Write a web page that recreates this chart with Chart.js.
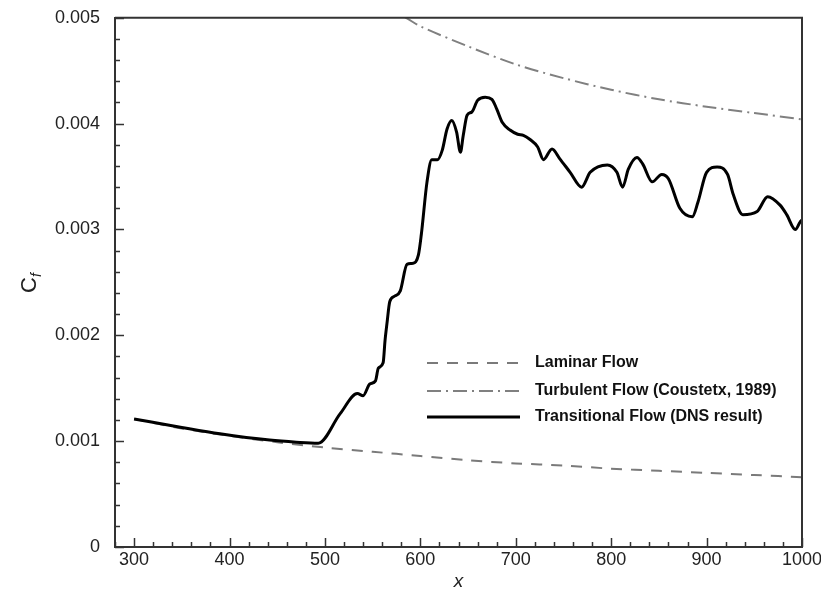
<!DOCTYPE html>
<html>
<head>
<meta charset="utf-8">
<script src="https://cdn.jsdelivr.net/npm/chart.js@4.4.1/dist/chart.umd.min.js"></script>
<style>
  html, body { margin: 0; padding: 0; background: #fff; }
  #wrap { width: 821px; height: 598px; }
</style>
</head>
<body>
<div id="wrap"><canvas id="cfChart" width="821" height="598"></canvas></div>
<script>
// ---- data ----
const laminarX = [300, 350, 400, 450, 500, 550, 600, 650, 700, 750, 800, 850, 900, 950, 1000];
const laminarCf = [0.00121, 0.00112, 0.00105, 0.00099, 0.00094, 0.00090, 0.00086, 0.00082,
                   0.00079, 0.00077, 0.00074, 0.00072, 0.00070, 0.00068, 0.00066];

const turbulentX = [560, 585, 600, 650, 700, 750, 800, 850, 900, 950, 1000];
const turbulentCf = [0.00512, 0.00500, 0.00492, 0.00473, 0.00456, 0.00443, 0.00432,
                     0.00423, 0.00416, 0.00410, 0.00404];

const dnsX = [300, 350, 390, 442, 470, 493, 516, 534, 540, 547, 553, 556, 561, 563, 565, 568,
              573, 579, 586, 592, 598, 601, 607, 612, 618, 623, 628, 633, 638, 642, 645, 649,
              654, 660, 668, 675, 680, 686, 694, 702, 708, 715, 723, 729, 738, 746, 757, 769,
              778, 796, 806, 812, 818, 827, 833, 843, 853, 860, 872, 885, 891, 900, 911, 922,
              928, 938, 953, 964, 977, 984, 993, 998, 1000];
const dnsCf = [0.00121, 0.00113, 0.00107, 0.00101, 0.00099, 0.00098, 0.00126, 0.00145,
               0.00143, 0.00154, 0.00157, 0.00169, 0.00174, 0.00195, 0.00211, 0.00232,
               0.00237, 0.00242, 0.00267, 0.00268, 0.00276, 0.00295, 0.00345, 0.00366,
               0.00366, 0.00375, 0.00395, 0.00403, 0.00392, 0.00373, 0.00389, 0.00408,
               0.00411, 0.00422, 0.00425, 0.00423, 0.00414, 0.00401, 0.00394, 0.00390,
               0.00389, 0.00385, 0.00378, 0.00366, 0.00376, 0.00367, 0.00354, 0.00340,
               0.00354, 0.00361, 0.00354, 0.00340, 0.00357, 0.00368, 0.00362, 0.00345,
               0.00352, 0.00348, 0.00320, 0.00312, 0.00326, 0.00354, 0.00359, 0.00352,
               0.00333, 0.00314, 0.00317, 0.00331, 0.00323, 0.00314, 0.00300, 0.00307, 0.00309];

const seriesLabels = ['Laminar Flow', 'Turbulent Flow (Coustetx, 1989)', 'Transitional Flow (DNS result)'];
const xTickLabels = [300, 400, 500, 600, 700, 800, 900, 1000];
const yTickLabels = [0, 0.001, 0.002, 0.003, 0.004, 0.005];

function toPoints(xs, ys) {
    return xs.map((x, i) => ({ x: x, y: ys[i] }));
}

const AXIS_COLOR = '#333';
const TEXT_COLOR = '#222';
const FONT = '"Liberation Sans", Arial, sans-serif';

// inward ticks + frame on top/right
const framePlugin = {
    id: 'frame',
    afterDraw(chart) {
        const { ctx, chartArea: a, scales } = chart;
        ctx.save();
        ctx.strokeStyle = AXIS_COLOR;
        ctx.lineWidth = 2;
        ctx.beginPath();
        ctx.moveTo(a.left, a.top);
        ctx.lineTo(a.right, a.top);
        ctx.lineTo(a.right, a.bottom);
        ctx.stroke();

        ctx.lineWidth = 1.5;
        scales.x.ticks.forEach(t => {
            const px = Math.round(scales.x.getPixelForValue(t.value)) + 0.5;
            const len = xTickLabels.includes(t.value) ? 9 : 5;
            ctx.beginPath();
            ctx.moveTo(px, a.bottom);
            ctx.lineTo(px, a.bottom - len);
            ctx.stroke();
        });
        scales.y.ticks.forEach(t => {
            const py = Math.round(scales.y.getPixelForValue(t.value)) + 0.5;
            const major = yTickLabels.some(v => Math.abs(v - t.value) < 1e-9);
            const len = major ? 9 : 5;
            ctx.beginPath();
            ctx.moveTo(a.left, py);
            ctx.lineTo(a.left + len, py);
            ctx.stroke();
        });

        // y axis title: C with subscript f
        ctx.fillStyle = TEXT_COLOR;
        ctx.translate(30, 284);
        ctx.rotate(-Math.PI / 2);
        ctx.textBaseline = 'middle';
        ctx.textAlign = 'left';
        ctx.font = '22px ' + FONT;
        ctx.fillText('C', -9, 0);
        ctx.font = 'italic 14px ' + FONT;
        ctx.fillText('f', 7, 7);
        ctx.restore();
    }
};

// legend drawn inside plot area
const legendPlugin = {
    id: 'insideLegend',
    afterDraw(chart) {
        const { ctx } = chart;
        const rows = [363, 391, 417];
        ctx.save();
        chart.data.datasets.forEach((ds, i) => {
            const y = rows[i];
            ctx.strokeStyle = ds.borderColor;
            ctx.lineWidth = ds.borderWidth;
            ctx.setLineDash(ds.borderDash || []);
            ctx.beginPath();
            ctx.moveTo(427, y);
            ctx.lineTo(520, y);
            ctx.stroke();
            ctx.setLineDash([]);
            ctx.fillStyle = '#111';
            ctx.font = 'bold 16px ' + FONT;
            ctx.textBaseline = 'middle';
            ctx.fillText(ds.label, 535, y);
        });
        ctx.restore();
    }
};

new Chart(document.getElementById('cfChart'), {
    type: 'line',
    data: {
        datasets: [
            {
                label: seriesLabels[0],
                data: toPoints(laminarX, laminarCf),
                borderColor: '#7a7a7a',
                borderWidth: 2,
                borderDash: [11, 9],
                pointRadius: 0,
                tension: 0.3,
                order: 2
            },
            {
                label: seriesLabels[1],
                data: toPoints(turbulentX, turbulentCf),
                borderColor: '#808080',
                borderWidth: 2,
                borderDash: [14, 5, 2, 5],
                pointRadius: 0,
                tension: 0.3,
                order: 1
            },
            {
                label: seriesLabels[2],
                data: toPoints(dnsX, dnsCf),
                borderColor: '#000',
                borderWidth: 3,
                pointRadius: 0,
                cubicInterpolationMode: 'monotone',
                order: 0
            }
        ]
    },
    options: {
        responsive: false,
        animation: false,
        devicePixelRatio: 1,
        layout: { padding: { top: 1, right: 19, left: 0, bottom: 0 } },
        plugins: {
            legend: { display: false },
            tooltip: { enabled: false }
        },
        scales: {
            x: {
                type: 'linear',
                min: 280,
                max: 1000,
                grid: { display: false },
                border: { display: true, color: AXIS_COLOR, width: 2 },
                ticks: {
                    stepSize: 20,
                    autoSkip: false,
                    maxRotation: 0,
                    padding: -6,
                    color: TEXT_COLOR,
                    font: { family: FONT, size: 18 },
                    callback: v => xTickLabels.includes(v) ? String(v) : ''
                },
                title: {
                    display: true,
                    text: 'x',
                    color: TEXT_COLOR,
                    font: { family: FONT, size: 19, style: 'italic' },
                    padding: { top: 0, bottom: 5 }
                },
                afterFit: s => { s.height = 51; }
            },
            y: {
                min: 0,
                max: 0.005,
                grid: { display: false },
                border: { display: true, color: AXIS_COLOR, width: 2 },
                ticks: {
                    stepSize: 0.0002,
                    autoSkip: false,
                    padding: 7,
                    color: TEXT_COLOR,
                    font: { family: FONT, size: 18 },
                    callback: v => {
                        const hit = yTickLabels.find(t => Math.abs(t - v) < 1e-9);
                        if (hit === undefined) return '';
                        return hit === 0 ? '0' : hit.toFixed(3);
                    }
                },
                afterFit: s => { s.width = 115; }
            }
        }
    },
    plugins: [framePlugin, legendPlugin]
});
</script>
</body>
</html>
